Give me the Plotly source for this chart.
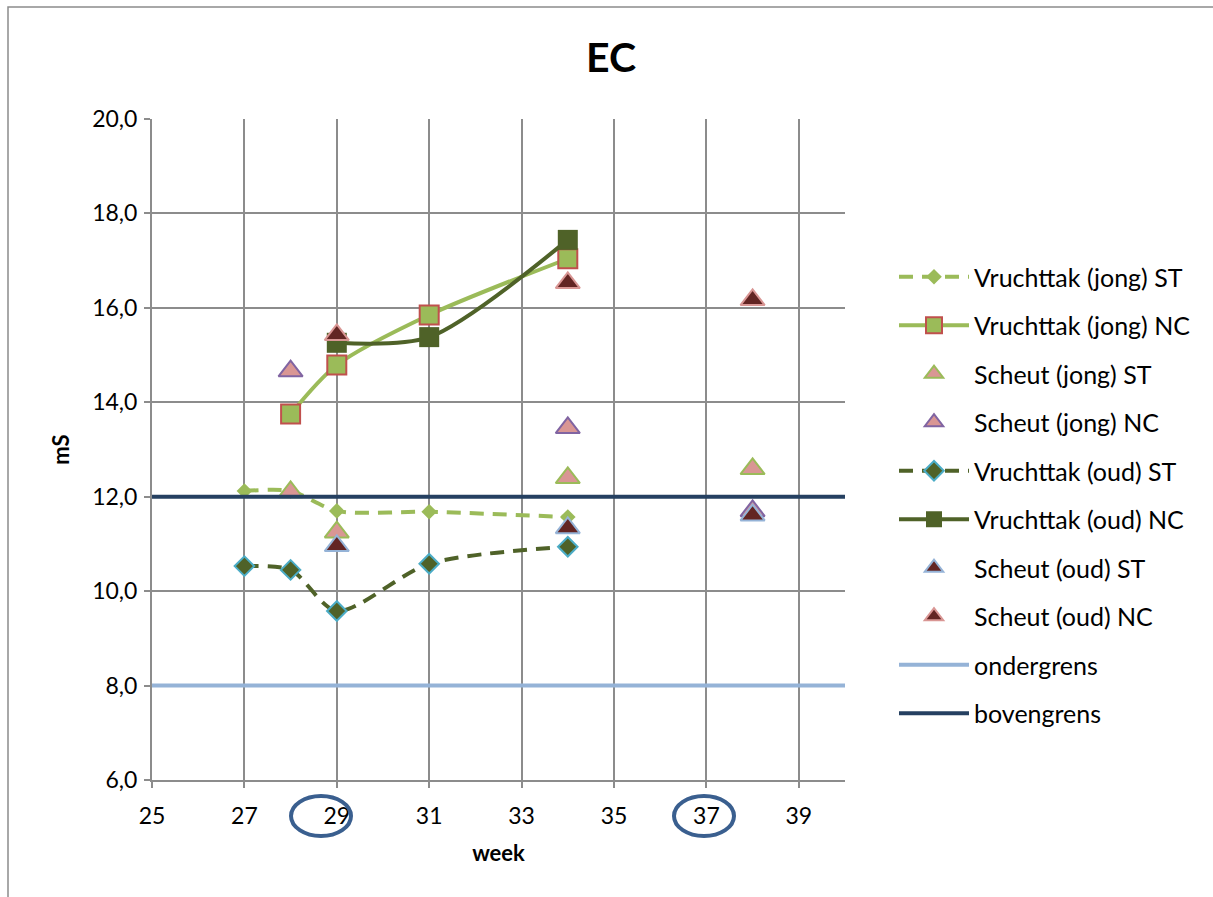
import plotly.graph_objects as go

# Weeks and EC readings (mS) per sample type
weeks_vj_st = [27, 28, 29, 31, 34]
vj_st = [12.12, 12.12, 11.70, 11.68, 11.57]

weeks_vj_nc = [28, 29, 31, 34]
vj_nc = [13.75, 14.79, 15.85, 17.04]

weeks_sj_st = [28, 29, 34, 38]
sj_st = [12.10, 11.25, 12.40, 12.59]

weeks_sj_nc = [28, 34, 38]
sj_nc = [14.66, 13.46, 11.70]

weeks_vo_st = [27, 28, 29, 31, 34]
vo_st = [10.53, 10.45, 9.58, 10.58, 10.94]

weeks_vo_nc = [29, 31, 34]
vo_nc = [15.26, 15.38, 17.44]

weeks_so_st = [29, 34, 38]
so_st = [10.96, 11.34, 11.61]

weeks_so_nc = [29, 34, 38]
so_nc = [15.43, 16.53, 16.17]

limit_weeks = [25, 40]
ondergrens = [8.0, 8.0]
bovengrens = [12.0, 12.0]

x_ticks = [25, 27, 29, 31, 33, 35, 37, 39]
y_ticks = [6, 8, 10, 12, 14, 16, 18, 20]

LIGHT_GREEN = "#9bbb59"
DARK_OLIVE = "#4f6228"
PINK = "#d99694"
MAROON = "#632523"
GRID = "#8c8c8c"
FONT = "Lato, 'Open Sans', sans-serif"

fig = go.Figure()

def add(name, x, y, mode, marker, line=None):
    kw = dict(x=x, y=y, name=name, mode=mode, marker=marker, legendgroup=name)
    if line is not None:
        kw["line"] = line
    fig.add_trace(go.Scatter(**kw))

add("Vruchttak (jong) ST", weeks_vj_st, vj_st, "lines+markers",
    dict(symbol="diamond", size=12, color=LIGHT_GREEN, line=dict(width=0)),
    dict(color=LIGHT_GREEN, width=4, dash="14px,9px", shape="spline", smoothing=0.8))
add("Vruchttak (jong) NC", weeks_vj_nc, vj_nc, "lines+markers",
    dict(symbol="square", size=19, color=LIGHT_GREEN, line=dict(color="#c0504d", width=2)),
    dict(color=LIGHT_GREEN, width=4, shape="spline", smoothing=0.8))
add("Scheut (jong) ST", weeks_sj_st, sj_st, "markers",
    dict(symbol="triangle-up", size=21, color=PINK, line=dict(color=LIGHT_GREEN, width=2)))
add("Scheut (jong) NC", weeks_sj_nc, sj_nc, "markers",
    dict(symbol="triangle-up", size=21, color=PINK, line=dict(color="#8064a2", width=2)))
add("Vruchttak (oud) ST", weeks_vo_st, vo_st, "lines+markers",
    dict(symbol="diamond", size=15, color=DARK_OLIVE, line=dict(color="#4bacc6", width=2)),
    dict(color=DARK_OLIVE, width=4, dash="14px,9px", shape="spline", smoothing=0.8))
add("Vruchttak (oud) NC", weeks_vo_nc, vo_nc, "lines+markers",
    dict(symbol="square", size=20, color=DARK_OLIVE, line=dict(width=0)),
    dict(color=DARK_OLIVE, width=4, shape="spline", smoothing=0.8))
add("Scheut (oud) ST", weeks_so_st, so_st, "markers",
    dict(symbol="triangle-up", size=21, color=MAROON, line=dict(color="#95b3d7", width=2)))
add("Scheut (oud) NC", weeks_so_nc, so_nc, "markers",
    dict(symbol="triangle-up", size=21, color=MAROON, line=dict(color=PINK, width=2)))
add("ondergrens", limit_weeks, ondergrens, "lines", dict(size=1),
    dict(color="#95b3d7", width=4))
add("bovengrens", limit_weeks, bovengrens, "lines", dict(size=1),
    dict(color="#254061", width=4))

# plot area in pixels
L, R, T, B = 152, 845, 119, 780
W, H = R - L, B - T

def px(xp):
    return (xp - L) / W

def py(yp):
    return (B - yp) / H

shapes = [
    # outer chart frame
    dict(type="rect", xref="paper", yref="paper",
         x0=px(8), x1=px(1240), y0=py(920), y1=py(7),
         line=dict(color=GRID, width=1.5), layer="below"),
]
# ellipses marking weeks 29 and 37 below the axis
for cx in (321, 704):
    shapes.append(dict(type="circle", xref="paper", yref="paper",
                       x0=px(cx - 30), x1=px(cx + 30), y0=py(816 + 20), y1=py(816 - 20),
                       line=dict(color="#3a5f8f", width=4)))

fig.update_layout(
    width=1213, height=897,
    margin=dict(l=L, r=1213 - R, t=T, b=897 - B),
    paper_bgcolor="white", plot_bgcolor="white",
    separators=",.",
    font=dict(family=FONT, size=23, color="black"),
    title=dict(text="<b>EC</b>", x=611 / 1213, xref="container", xanchor="center",
               y=1 - 58 / 897, yref="container", yanchor="middle",
               font=dict(size=41, family=FONT, color="black")),
    xaxis=dict(range=[25, 40], tickvals=x_ticks, showgrid=True,
               gridcolor=GRID, gridwidth=2, showline=True, linecolor=GRID,
               linewidth=2, ticks="outside", ticklen=6, tickcolor=GRID,
               tickwidth=2, zeroline=False, ticklabelstandoff=8,
               tickfont=dict(size=23),
               title=dict(text="<b>week</b>", font=dict(size=22), standoff=18)),
    yaxis=dict(range=[6, 20], tickvals=y_ticks, tickformat=".1f", showgrid=True,
               gridcolor=GRID, gridwidth=2, showline=True, linecolor=GRID,
               linewidth=2, ticks="outside", ticklen=6, tickcolor=GRID,
               tickwidth=2, zeroline=False, ticklabelstandoff=2,
               tickfont=dict(size=23),
               title=dict(text="<b>mS</b>", font=dict(size=22), standoff=16)),
    legend=dict(x=px(894), xanchor="left", y=py(254), yanchor="top",
                traceorder="grouped", tracegroupgap=13, itemwidth=70,
                font=dict(size=25, family=FONT), bgcolor="rgba(0,0,0,0)"),
    shapes=shapes,
)

fig.write_html("out.html")
